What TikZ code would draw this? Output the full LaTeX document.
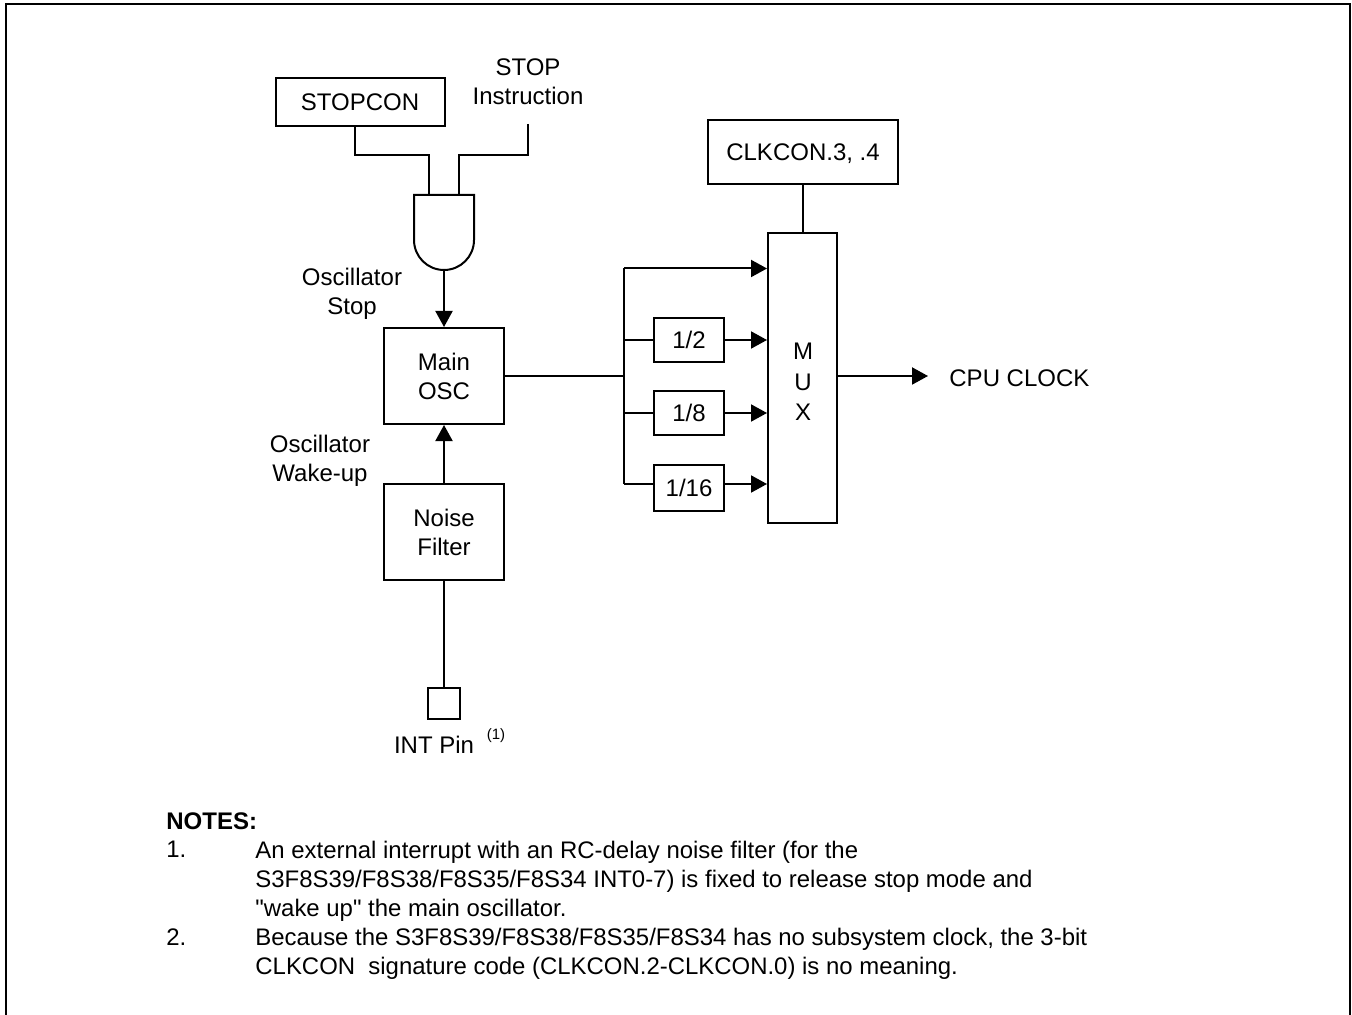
\documentclass[tikz,border=0pt]{standalone}
\usepackage{fontspec}
\setmainfont[Ligatures=TeXOff]{Liberation Sans}
\usetikzlibrary{arrows.meta,positioning,calc}

\begin{document}
\begin{tikzpicture}[
    x=0.5pt, y=-0.5pt,
    every node/.style={font=\fontsize{12}{14.5}\selectfont, align=center},
    box/.style={draw, line width=1pt, inner sep=0pt},
    label/.style={inner sep=0pt},
    note/.style={inner sep=0pt, anchor=north west, align=left, font=\fontsize{11.97}{14.5}\selectfont},
    wire/.style={line width=1pt},
    arr/.style={line width=1pt, -{Triangle[length=8pt, width=8.5pt]}},
]
    \useasboundingbox (0, 0) rectangle (1352, 1015);
    % Frame
    \coordinate (fr_a) at (6, 1015);
    \coordinate (fr_b) at (6, 4);
    \coordinate (fr_c) at (1350, 4);
    \coordinate (fr_d) at (1350, 1015);
    \draw[line width=1.4pt] (fr_a) -- (fr_b) -- (fr_c) -- (fr_d);

    % Stop branch
    \node[box, minimum width=84.5pt, minimum height=24pt] (stopcon) at (360, 102) {STOPCON};
    \node[label] (stopinstr) at (528, 82) {STOP\\Instruction};
    \coordinate (stopcon_out) at (354.5, 126);
    \coordinate (stop_end) at (528, 124);
    \coordinate (wire_y) at (0, 155);

    % AND gate
    \coordinate (and_l) at (414, 195);
    \coordinate (and_r) at (474, 195);
    \coordinate (and_in1) at (429, 195);
    \coordinate (and_in2) at (459, 195);
    \coordinate (and_out) at (444, 270);
    \draw[wire] (and_l) -- (and_r) -- (474, 240) arc[start angle=0, end angle=-180, radius=15pt] -- cycle;

    \node[label] (oscstop) at (352, 294) {Oscillator\\Stop};

    % Main column
    \node[box, minimum width=60pt, minimum height=48pt] (mainosc) at (444, 376) {Main\\OSC};
    \node[label] (oscwake) at (320, 461) {Oscillator\\Wake-up};
    \node[box, minimum width=60pt, minimum height=48pt] (noise) at (444, 532) {Noise\\Filter};
    \node[box, minimum width=16pt, minimum height=15.5pt] (intpin) at (444, 703.5) {};
    \node[label] (intlabel) at (434, 745) {INT Pin};
    \node[label, font=\fontsize{7.5}{9}\selectfont] (intnote) at (496, 736) {(1)};

    % Dividers and mux
    \node[box, minimum width=35pt, minimum height=22pt] (div2) at (689, 340) {1/2};
    \node[box, minimum width=35pt, minimum height=22pt] (div8) at (689, 413) {1/8};
    \node[box, minimum width=35pt, minimum height=23pt] (div16) at (689, 488) {1/16};
    \node[box, minimum width=34.5pt, minimum height=144.5pt] (mux) at (802.5, 378) {};
    \node[label] (muxtext) at (803, 382) {M\\[0.75pt]U\\[0.75pt]X};
    \node[box, minimum width=95pt, minimum height=32pt, text depth=0pt] (clkcon) at (803, 152) {CLKCON.3, .4};
    \node[label, anchor=west] (cpuclock) at (949, 378) {CPU CLOCK};

    \coordinate (bus_top) at (624, 268.5);
    \coordinate (bus_mid) at (624, 376);
    \coordinate (bus_bot) at (624, 484);
    \coordinate (cpu_end) at (928, 376);

    % Arrows
    \draw[wire] (stopcon_out) |- (wire_y -| and_in1) -- (and_in1);
    \draw[wire] (stop_end) |- (wire_y -| and_in2) -- (and_in2);
    \draw[arr] (and_out) -- (mainosc);
    \draw[arr] (noise) -- (mainosc);
    \draw[wire] (intpin) -- (noise);
    \draw[wire] (mainosc.east |- bus_mid) -- (bus_mid);
    \draw[wire] (bus_top) -- (bus_bot);
    \draw[arr] (bus_top) -- (bus_top -| mux.west);
    \draw[wire] (div2 -| bus_mid) -- (div2);
    \draw[wire] (div8 -| bus_mid) -- (div8);
    \draw[wire] (bus_bot) -- (bus_bot -| div16.west);
    \draw[arr] (div2) -- (div2 -| mux.west);
    \draw[arr] (div8) -- (div8 -| mux.west);
    \draw[arr] (div16.east |- bus_bot) -- (bus_bot -| mux.west);
    \draw[wire] (clkcon) -- (clkcon |- mux.north);
    \draw[arr] (mux.east |- cpu_end) -- (cpu_end);

    % Notes
    \node[note, font=\fontsize{12}{14.5}\selectfont\bfseries] (notes) at (166, 812) {NOTES:};
    \node[note] (num1) at (166, 841) {1.};
    \node[note] (text1) at (255, 841) {An external interrupt with an RC-delay noise filter (for the\\S3F8S39/F8S38/F8S35/F8S34 INT0-7) is fixed to release stop mode and\\"wake up" the main oscillator.};
    \node[note] (num2) at (166, 928) {2.};
    \node[note] (text2) at (255, 928) {Because the S3F8S39/F8S38/F8S35/F8S34 has no subsystem clock, the 3-bit\\CLKCON\ \ signature code (CLKCON.2-CLKCON.0) is no meaning.};
\end{tikzpicture}
\end{document}
